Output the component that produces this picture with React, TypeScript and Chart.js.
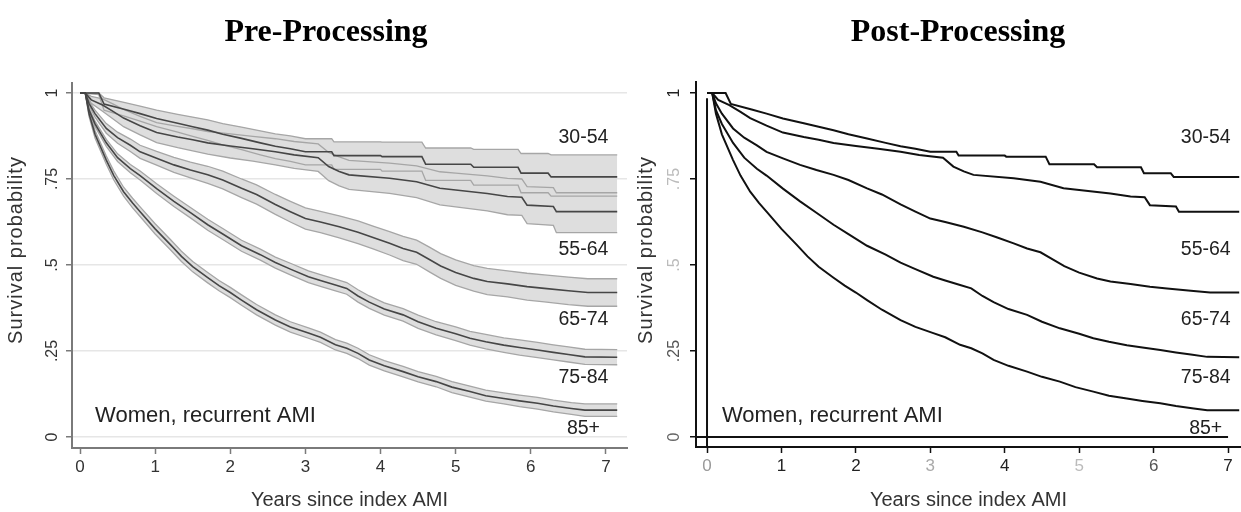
import React, { useEffect, useRef } from "react";
import { Chart, registerables } from "chart.js";

Chart.register(...registerables);

// ---------- data ----------
const xTicks = [0, 1, 2, 3, 4, 5, 6, 7];
const xTickLabels = ["0", "1", "2", "3", "4", "5", "6", "7"];
const yTicks = [0, 0.25, 0.5, 0.75, 1];
const yTickLabels = ["0", ".25", ".5", ".75", "1"];
const groupNames = ["30-54", "55-64", "65-74", "75-84", "85+"];
const panelTitles = ["Pre-Processing", "Post-Processing"];
const noteText = "Women, recurrent AMI";
const xTitleText = "Years since index AMI";
const yTitleText = "Survival probability";

const years3054 = [0, 0.25, 0.32, 0.6, 0.8, 1.02, 1.3, 1.5, 1.7, 1.9, 2.15, 2.4, 2.6, 2.8, 3.0, 3.35, 3.38, 4.0, 4.02, 4.55, 4.6, 5.2, 5.24, 5.83, 5.87, 6.23, 6.27, 7.15];
const surv3054 = [1, 1, 0.968, 0.952, 0.94, 0.926, 0.912, 0.902, 0.892, 0.88, 0.868, 0.855, 0.845, 0.838, 0.829, 0.829, 0.818, 0.818, 0.815, 0.815, 0.793, 0.793, 0.784, 0.784, 0.767, 0.767, 0.756, 0.756];
const upper3054 = [1, 1, 0.986, 0.972, 0.962, 0.95, 0.938, 0.93, 0.922, 0.911, 0.901, 0.89, 0.881, 0.875, 0.867, 0.867, 0.858, 0.858, 0.857, 0.857, 0.84, 0.84, 0.836, 0.836, 0.824, 0.824, 0.82, 0.82];
const lower3054 = [1, 0.995, 0.95, 0.932, 0.918, 0.902, 0.886, 0.874, 0.862, 0.849, 0.835, 0.82, 0.809, 0.801, 0.791, 0.791, 0.778, 0.778, 0.773, 0.773, 0.746, 0.746, 0.732, 0.732, 0.71, 0.71, 0.7, 0.7];

const years5564 = [0, 0.07, 0.15, 0.3, 0.45, 0.58, 0.8, 1.02, 1.3, 1.5, 1.7, 2.0, 2.3, 2.6, 2.85, 3.17, 3.31, 3.45, 3.58, 4.12, 4.48, 4.79, 5.0, 5.42, 5.69, 5.88, 5.95, 6.3, 6.34, 7.15];
const surv5564 = [1, 1, 0.98, 0.965, 0.945, 0.927, 0.905, 0.885, 0.872, 0.864, 0.855, 0.846, 0.838, 0.829, 0.82, 0.812, 0.786, 0.772, 0.762, 0.752, 0.742, 0.723, 0.718, 0.708, 0.699, 0.697, 0.674, 0.67, 0.655, 0.655];
const upper5564 = [1, 1, 0.99, 0.983, 0.967, 0.952, 0.932, 0.914, 0.903, 0.896, 0.888, 0.881, 0.874, 0.867, 0.859, 0.852, 0.827, 0.814, 0.804, 0.796, 0.788, 0.771, 0.767, 0.759, 0.752, 0.75, 0.728, 0.725, 0.71, 0.71];
const lower5564 = [1, 1, 0.97, 0.947, 0.923, 0.902, 0.878, 0.856, 0.841, 0.832, 0.822, 0.811, 0.802, 0.791, 0.781, 0.772, 0.745, 0.73, 0.72, 0.708, 0.696, 0.675, 0.669, 0.657, 0.646, 0.644, 0.62, 0.615, 0.594, 0.594];

const years6574 = [0, 0.07, 0.12, 0.2, 0.35, 0.5, 0.67, 0.8, 1.02, 1.25, 1.47, 1.7, 1.9, 2.15, 2.35, 2.6, 2.8, 3.0, 3.2, 3.45, 3.7, 3.9, 4.12, 4.3, 4.48, 4.65, 4.8, 5.0, 5.24, 5.42, 5.69, 5.95, 6.18, 6.5, 6.76, 7.15];
const surv6574 = [1, 1, 0.97, 0.94, 0.897, 0.87, 0.848, 0.829, 0.81, 0.791, 0.776, 0.762, 0.747, 0.723, 0.705, 0.676, 0.655, 0.635, 0.625, 0.611, 0.595, 0.58, 0.563, 0.548, 0.537, 0.516, 0.497, 0.478, 0.461, 0.452, 0.445, 0.437, 0.432, 0.425, 0.42, 0.42];
const upper6574 = [1, 1, 0.976, 0.95, 0.911, 0.886, 0.866, 0.848, 0.83, 0.813, 0.799, 0.787, 0.773, 0.75, 0.733, 0.705, 0.685, 0.666, 0.656, 0.643, 0.628, 0.613, 0.597, 0.583, 0.572, 0.552, 0.533, 0.515, 0.498, 0.49, 0.483, 0.476, 0.471, 0.465, 0.46, 0.46];
const lower6574 = [1, 1, 0.964, 0.93, 0.883, 0.854, 0.83, 0.81, 0.79, 0.769, 0.753, 0.737, 0.721, 0.696, 0.677, 0.647, 0.625, 0.604, 0.594, 0.579, 0.562, 0.547, 0.529, 0.513, 0.502, 0.48, 0.461, 0.441, 0.424, 0.414, 0.407, 0.398, 0.393, 0.385, 0.38, 0.38];

const years7584 = [0, 0.07, 0.12, 0.2, 0.35, 0.5, 0.67, 0.8, 1.02, 1.25, 1.47, 1.7, 1.9, 2.15, 2.4, 2.6, 2.8, 3.04, 3.2, 3.4, 3.55, 3.7, 3.85, 4.05, 4.3, 4.5, 4.74, 5.0, 5.19, 5.4, 5.64, 5.85, 6.09, 6.3, 6.5, 6.72, 7.15];
const surv7584 = [1, 1, 0.95, 0.91, 0.855, 0.812, 0.78, 0.76, 0.722, 0.685, 0.652, 0.617, 0.59, 0.556, 0.53, 0.507, 0.488, 0.466, 0.455, 0.442, 0.432, 0.41, 0.392, 0.372, 0.355, 0.335, 0.316, 0.3, 0.287, 0.277, 0.267, 0.26, 0.253, 0.246, 0.24, 0.233, 0.232];
const upper7584 = [1, 1, 0.956, 0.918, 0.865, 0.823, 0.792, 0.773, 0.736, 0.7, 0.667, 0.633, 0.606, 0.572, 0.546, 0.523, 0.505, 0.483, 0.472, 0.459, 0.449, 0.428, 0.41, 0.39, 0.373, 0.354, 0.335, 0.32, 0.307, 0.298, 0.288, 0.282, 0.275, 0.268, 0.262, 0.255, 0.254];
const lower7584 = [1, 1, 0.944, 0.902, 0.845, 0.801, 0.768, 0.747, 0.708, 0.67, 0.637, 0.601, 0.574, 0.54, 0.514, 0.491, 0.471, 0.449, 0.438, 0.425, 0.415, 0.392, 0.374, 0.354, 0.337, 0.316, 0.297, 0.28, 0.267, 0.256, 0.246, 0.238, 0.231, 0.224, 0.218, 0.211, 0.21];

const years85 = [0, 0.07, 0.12, 0.2, 0.35, 0.45, 0.58, 0.7, 0.8, 1.0, 1.2, 1.35, 1.5, 1.7, 1.85, 2.0, 2.15, 2.35, 2.6, 2.8, 3.04, 3.2, 3.4, 3.55, 3.7, 3.85, 4.05, 4.3, 4.5, 4.74, 4.95, 5.19, 5.4, 5.64, 5.85, 6.09, 6.3, 6.54, 6.72, 7.15];
const surv85 = [1, 1, 0.94, 0.88, 0.805, 0.76, 0.713, 0.68, 0.655, 0.605, 0.56, 0.525, 0.495, 0.463, 0.44, 0.42, 0.398, 0.37, 0.34, 0.32, 0.302, 0.29, 0.268, 0.258, 0.243, 0.224, 0.207, 0.19, 0.175, 0.161, 0.145, 0.132, 0.12, 0.112, 0.105, 0.098, 0.09, 0.083, 0.078, 0.078];
const upper85 = [1, 1, 0.948, 0.891, 0.817, 0.773, 0.726, 0.694, 0.669, 0.62, 0.575, 0.54, 0.51, 0.478, 0.455, 0.435, 0.413, 0.385, 0.355, 0.335, 0.317, 0.305, 0.283, 0.273, 0.258, 0.239, 0.222, 0.205, 0.19, 0.176, 0.161, 0.148, 0.136, 0.128, 0.122, 0.115, 0.107, 0.1, 0.096, 0.096];
const lower85 = [1, 1, 0.932, 0.869, 0.793, 0.747, 0.7, 0.666, 0.641, 0.59, 0.545, 0.51, 0.48, 0.448, 0.425, 0.405, 0.383, 0.355, 0.325, 0.305, 0.287, 0.275, 0.253, 0.243, 0.228, 0.209, 0.192, 0.175, 0.16, 0.146, 0.129, 0.116, 0.104, 0.096, 0.088, 0.081, 0.073, 0.066, 0.06, 0.06];

// extra strokes visible in the post-processed panel
const zeroLineYears = [-0.15, 7.0];
const zeroLineSurv = [0, 0];
const originLineYears = [0, 0];
const originLineSurv = [-0.03, 0.985];

const groupYears = [years3054, years5564, years6574, years7584, years85];
const groupSurv = [surv3054, surv5564, surv6574, surv7584, surv85];
const groupUpper = [upper3054, upper5564, upper6574, upper7584, upper85];
const groupLower = [lower3054, lower5564, lower6574, lower7584, lower85];

// ---------- helpers ----------
const SANS = '"Liberation Sans", Arial, Helvetica, sans-serif';
const pts = (xs: number[], ys: number[]) => xs.map((x, i) => ({ x, y: ys[i] }));

type PanelCfg = {
  pre: boolean;
  width: number;
  xMin: number;
  xMax: number;
  yMin: number;
  yMax: number;
  axisLeft: number;
  padTop: number;
  padRight: number;
  xAxisHeight: number;
};

const panels: PanelCfg[] = [
  { pre: true, width: 630, xMin: -0.1065, xMax: 7.28, yMin: -0.032, yMax: 1.029, axisLeft: 72, padTop: 83, padRight: 3, xAxisHeight: 64 },
  { pre: false, width: 611, xMin: -0.148, xMax: 7.174, yMin: -0.029, yMax: 1.032, axisLeft: 66, padTop: 82, padRight: 0, xAxisHeight: 65 },
];

const labelYear = 6.7;
const labelSurv = [0.87, 0.544, 0.34, 0.174, 0.024];
const noteYear = 0.2;
const noteSurv = 0.06;

const postXTickColors: Record<number, string> = { 0: "#999", 1: "#222", 2: "#222", 3: "#aaa", 4: "#222", 5: "#bbb", 6: "#555", 7: "#222" };
const postYTickColors: Record<number, string> = { 0: "#666", 0.25: "#555", 0.5: "#bbb", 0.75: "#bbb", 1: "#222" };

function makeTextPlugin(cfg: PanelCfg) {
  return {
    id: "panelText",
    afterDraw(chart: any) {
      const { ctx, chartArea } = chart;
      const xs = chart.scales.x;
      const ys = chart.scales.y;
      ctx.save();
      // rotated y tick labels
      ctx.font = `16px ${SANS}`;
      ctx.textAlign = "center";
      ctx.textBaseline = "middle";
      yTicks.forEach((v, i) => {
        const py = ys.getPixelForValue(v);
        ctx.save();
        ctx.translate(chartArea.left - (cfg.pre ? 19 : 21), py);
        ctx.rotate(-Math.PI / 2);
        ctx.fillStyle = cfg.pre ? "#333" : postYTickColors[v];
        ctx.fillText(yTickLabels[i], 0, 0);
        ctx.restore();
      });
      // y title
      ctx.save();
      ctx.translate(16, 250);
      ctx.rotate(-Math.PI / 2);
      ctx.font = `20px ${SANS}`;
      (ctx as any).letterSpacing = "1px";
      ctx.fillStyle = "#333";
      ctx.fillText(yTitleText, 0, 0);
      ctx.restore();
      // group labels
      ctx.font = `19.5px ${SANS}`;
      ctx.fillStyle = "#222";
      ctx.textAlign = "center";
      groupNames.forEach((g, i) => {
        ctx.fillText(g, xs.getPixelForValue(labelYear), ys.getPixelForValue(labelSurv[i]));
      });
      // note
      ctx.textAlign = "left";
      ctx.font = `22px ${SANS}`;
      ctx.fillText(noteText, xs.getPixelForValue(noteYear), ys.getPixelForValue(noteSurv));
      ctx.restore();
    },
  };
}

function buildDatasets(pre: boolean) {
  const ds: any[] = [];
  if (pre) {
    groupNames.forEach((g, i) => {
      ds.push({
        label: g,
        data: pts(groupYears[i], groupSurv[i]),
        borderColor: "#464646",
        borderWidth: 1.6,
        pointRadius: 0,
        fill: false,
      });
    });
    groupNames.forEach((g, i) => {
      ds.push({
        label: g + " upper",
        data: pts(groupYears[i], groupUpper[i]),
        borderColor: "#a6a6a6",
        borderWidth: 1.3,
        pointRadius: 0,
        fill: "+1",
        backgroundColor: "#dedede",
      });
      ds.push({
        label: g + " lower",
        data: pts(groupYears[i], groupLower[i]),
        borderColor: "#a6a6a6",
        borderWidth: 1.3,
        pointRadius: 0,
        fill: false,
      });
    });
  } else {
    groupNames.forEach((g, i) => {
      ds.push({
        label: g,
        data: pts(groupYears[i], groupSurv[i]),
        borderColor: "#111",
        borderWidth: 2,
        pointRadius: 0,
        fill: false,
      });
    });
    ds.push({ label: "zero", data: pts(zeroLineYears, zeroLineSurv), borderColor: "#111", borderWidth: 2, pointRadius: 0, fill: false });
    ds.push({ label: "origin", data: pts(originLineYears, originLineSurv), borderColor: "#111", borderWidth: 2, pointRadius: 0, fill: false });
  }
  return ds;
}

function Panel({ cfg, left }: { cfg: PanelCfg; left: number }) {
  const ref = useRef<HTMLCanvasElement | null>(null);
  useEffect(() => {
    if (!ref.current) return;
    const axisColor = cfg.pre ? "#7a7a7a" : "#111";
    const chart = new Chart(ref.current, {
      type: "line",
      data: { datasets: buildDatasets(cfg.pre) },
      options: {
        animation: false,
        responsive: false,
        devicePixelRatio: 1,
        events: [],
        layout: { padding: { top: cfg.padTop, right: cfg.padRight, left: 0, bottom: 0 } },
        plugins: {
          legend: { display: false },
          tooltip: { enabled: false },
          title: { display: false },
          filler: { drawTime: "beforeDatasetsDraw" },
        } as any,
        scales: {
          x: {
            type: "linear",
            min: cfg.xMin,
            max: cfg.xMax,
            afterBuildTicks: (s: any) => {
              s.ticks = xTicks.map((v) => ({ value: v }));
            },
            afterFit: (s: any) => {
              s.height = cfg.xAxisHeight;
            },
            grid: { display: true, drawOnChartArea: false, drawTicks: true, tickLength: 6, tickColor: axisColor, tickWidth: 1.5 },
            border: { display: true, color: axisColor, width: 2 },
            ticks: {
              autoSkip: false,
              maxRotation: 0,
              padding: 3,
              font: { size: 17, family: SANS },
              color: cfg.pre ? "#333" : ((c: any) => postXTickColors[c.tick.value] || "#222") as any,
              callback: (v: any) => xTickLabels[xTicks.indexOf(Number(v))] ?? "",
            },
            title: {
              display: true,
              text: xTitleText,
              font: { size: 20, family: SANS },
              color: "#333",
              padding: { top: 0, bottom: 0 },
            },
          },
          y: {
            type: "linear",
            min: cfg.yMin,
            max: cfg.yMax,
            afterBuildTicks: (s: any) => {
              s.ticks = yTicks.map((v) => ({ value: v }));
            },
            afterFit: (s: any) => {
              s.width = cfg.axisLeft;
            },
            grid: {
              display: true,
              drawOnChartArea: cfg.pre,
              color: "#e6e6e6",
              lineWidth: 1.5,
              drawTicks: true,
              tickLength: 6,
              tickColor: axisColor,
              tickWidth: 1.5,
            },
            border: { display: true, color: axisColor, width: 2 },
            ticks: { display: false },
          },
        },
      } as any,
      plugins: [makeTextPlugin(cfg)],
    });
    return () => chart.destroy();
  }, [cfg]);
  return (
    <canvas
      ref={ref}
      width={cfg.width}
      height={512}
      style={{ position: "absolute", left, top: 0, width: cfg.width, height: 512 }}
    />
  );
}

export default function App() {
  const titleStyle = (cx: number): React.CSSProperties => ({
    position: "absolute",
    left: cx - 200,
    width: 400,
    top: 13,
    textAlign: "center",
    font: 'bold 32px "Liberation Serif", "Times New Roman", serif',
    lineHeight: "34px",
    color: "#000",
    whiteSpace: "nowrap",
  });
  return (
    <div style={{ position: "absolute", left: 0, top: 0, width: 1241, height: 512, background: "#fff", overflow: "hidden" }}>
      <Panel cfg={panels[0]} left={0} />
      <Panel cfg={panels[1]} left={630} />
      <div style={titleStyle(326)}>{panelTitles[0]}</div>
      <div style={titleStyle(958)}>{panelTitles[1]}</div>
    </div>
  );
}
